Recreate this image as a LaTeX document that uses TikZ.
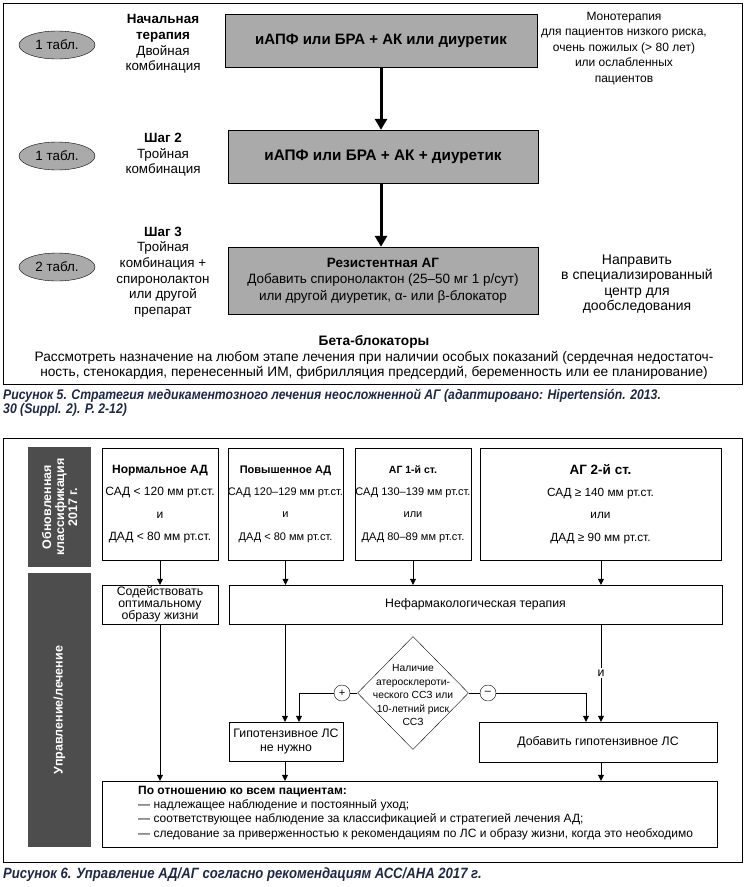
\documentclass[tikz,border=0pt]{standalone}
\usepackage{fontspec}
\setmainfont{Liberation Sans}
\newfontfamily\capfont[FakeStretch=0.88]{Liberation Sans}
\usetikzlibrary{shapes.geometric,arrows.meta}
\definecolor{boxgray}{RGB}{170,170,170}
\definecolor{bargray}{RGB}{77,77,77}
\definecolor{capblue}{RGB}{30,40,70}
\tikzset{
  ftext/.style={font=\fontsize{13.4}{15.6}\selectfont, align=center, inner sep=0pt},
  pill/.style={ellipse, draw, fill=boxgray, minimum width=76pt, minimum height=28pt, inner sep=0pt, font=\fontsize{13.4}{15}\selectfont},
  gbox/.style={draw, fill=boxgray, inner sep=0pt, align=center, font=\fontsize{13.5}{16.5}\selectfont},
  bigarrow/.style={line width=3pt, -{Triangle[width=12pt,length=11pt]}},
  wbox/.style={draw, inner sep=0pt, align=center, font=\fontsize{12.3}{12}\selectfont},
  clsbox/.style={draw, inner sep=0pt, align=center, font=\fontsize{12}{22.3}\selectfont},
  sarrow/.style={-{Triangle[width=6pt,length=6pt]}},
  darkbar/.style={fill=bargray, draw=none, inner sep=0pt},
  bartext/.style={text=white, rotate=90, align=center, font=\bfseries\fontsize{12.5}{13}\selectfont},
  capt/.style={anchor=west, inner sep=0pt, align=left, text=capblue, font=\capfont\bfseries\itshape\fontsize{13.9}{14}\selectfont},
  circ/.style={circle, draw, fill=white, minimum size=16pt, inner sep=0pt, font=\fontsize{11}{11}\selectfont}
}
\begin{document}
\begin{tikzpicture}[x=1pt,y=-1pt]
\useasboundingbox (0,0) rectangle (748,887);
% ---------- Figure 5 ----------
\draw (3,3) rectangle (742,384);
\node[pill] (e1) at (57,45) {1 табл.};
\node[pill] (e2) at (57,156) {1 табл.};
\node[pill] (e3) at (57,267) {2 табл.};
\node[ftext] (s1) at (163,44) {\textbf{Начальная}\\\textbf{терапия}\\Двойная\\комбинация};
\node[ftext] (s2) at (163,155) {\textbf{Шаг 2}\\Тройная\\комбинация};
\node[ftext] (s3) at (163,272) {\textbf{Шаг 3}\\Тройная\\комбинация +\\спиронолактон\\или другой\\препарат};
\node[gbox, minimum width=312pt, minimum height=53pt, font=\bfseries\fontsize{15}{16}\selectfont] (b1) at (381,40.5) {иАПФ или БРА + АК или диуретик};
\node[gbox, minimum width=310pt, minimum height=53pt, font=\bfseries\fontsize{15.3}{16}\selectfont] (b2) at (383,156.5) {иАПФ или БРА + АК + диуретик};
\node[gbox, minimum width=310pt, minimum height=67pt] (b3) at (383,280.5) {\textbf{Резистентная АГ}\\Добавить спиронолактон (25–50 мг 1 р/сут)\\или другой диуретик, α- или β-блокатор};
\draw[bigarrow] (b1.south) -- (b1.south |- b2.north);
\draw[bigarrow] (b1.south |- b2.south) -- (b1.south |- b3.north);
\node[ftext, font=\fontsize{12}{15.5}\selectfont] (mono) at (624,48.5) {Монотерапия\\для пациентов низкого риска,\\очень пожилых (> 80 лет)\\или ослабленных\\пациентов};
\node[ftext, font=\fontsize{14}{15.3}\selectfont] (napr) at (637,284) {Направить\\в специализированный\\центр для\\дообследования};
\node[ftext, font=\fontsize{13.7}{15.5}\selectfont] (beta) at (374,357.5) {\textbf{Бета-блокаторы}\\Рассмотреть назначение на любом этапе лечения при наличии особых показаний (сердечная недостаточ-\\ность, стенокардия, перенесенный ИМ, фибрилляция предсердий, беременность или ее планирование)};
\node[capt] (cap5) at (3,403) {Рисунок 5. Стратегия медикаментозного лечения неосложненной АГ (адаптировано: Hipertensión. 2013.\\30 (Suppl. 2). P. 2-12)};
% ---------- Figure 6 ----------
\draw (3,438) rectangle (742,862);
\node[darkbar, minimum width=63pt, minimum height=120pt] (bar1) at (59.5,507) {};
\node[bartext] (bt1) at (bar1) {Обновленная\\классификация\\2017 г.};
\node[darkbar, minimum width=63pt, minimum height=274pt] (bar2) at (59.5,710) {};
\node[bartext] (bt2) at (bar2) {Управление/лечение};
\node[clsbox, minimum width=116pt, minimum height=112pt] (ca) at (160,504) {\textbf{Нормальное АД}\\САД < 120 мм рт.ст.\\и\\ДАД < 80 мм рт.ст.};
\node[clsbox, minimum width=115pt, minimum height=112pt, font=\fontsize{11}{22.3}\selectfont] (cb) at (285.5,504) {\textbf{Повышенное АД}\\САД 120–129 мм рт.ст.\\и\\ДАД < 80 мм рт.ст.};
\node[clsbox, minimum width=116pt, minimum height=112pt, font=\fontsize{11}{22.3}\selectfont] (cc) at (413,504) {{\fontsize{10.5}{22.3}\selectfont\textbf{АГ 1-й ст.}}\\САД 130–139 мм рт.ст.\\или\\ДАД 80–89 мм рт.ст.};
\node[clsbox, minimum width=241pt, minimum height=112pt, font=\fontsize{11.8}{22.3}\selectfont] (cd) at (600.5,504) {{\fontsize{13.5}{22.3}\selectfont\textbf{АГ 2-й ст.}}\\САД ≥ 140 мм рт.ст.\\или\\ДАД ≥ 90 мм рт.ст.};
\node[wbox, minimum width=116pt, minimum height=39pt] (sod) at (160,604.5) {Содействовать\\оптимальному\\образу жизни};
\node[wbox, minimum width=493pt, minimum height=39pt] (nef) at (475.5,604.5) {Нефармакологическая терапия};
\node[diamond, draw, minimum width=111pt, minimum height=113pt, inner sep=0pt] (dia) at (413,693) {};
\node[wbox, draw=none, font=\fontsize{10.3}{13.5}\selectfont] (diat) at (413,695) {Наличие\\атеросклероти-\\ческого ССЗ или\\10-летний риск\\ССЗ};
\node[circ] (plus) at (342,693) {+};
\node[circ] (minus) at (488,693) {–};
\node[wbox, minimum width=114pt, minimum height=39pt, font=\fontsize{12.3}{14}\selectfont] (hyp) at (286,741.5) {Гипотензивное ЛС\\не нужно};
\node[wbox, minimum width=238pt, minimum height=40pt] (add) at (598,742) {Добавить гипотензивное ЛС};
\node[draw, minimum width=615pt, minimum height=66pt, inner sep=0pt] (all) at (409.5,814) {};
\node[anchor=north west, inner sep=0pt, align=left, font=\fontsize{12}{14.2}\selectfont] (allt) at (138,786) {\textbf{По отношению ко всем пациентам:}\\— надлежащее наблюдение и постоянный уход;\\— соответствующее наблюдение за классификацией и стратегией лечения АД;\\— следование за приверженностью к рекомендациям по ЛС и образу жизни, когда это необходимо};
% arrows
\draw[sarrow] (ca.south) -- (sod.north);
\draw[sarrow] (cb.south) -- (cb.south |- nef.north);
\draw[sarrow] (cc.south) -- (cc.south |- nef.north);
\coordinate (dtop) at (601,560);
\draw[sarrow] (dtop) -- (dtop |- nef.north);
\coordinate (nefA) at (285,624);
\coordinate (nefB) at (601,624);
\draw[sarrow] (nefA) -- (nefA |- hyp.north);
\draw[sarrow] (nefB) -- node[fill=white, inner sep=2pt, font=\fontsize{12.3}{13}\selectfont] (iand) {и} (nefB |- add.north);
\draw (dia.west) -- (plus.east);
\coordinate (pturn) at (299,693);
\draw[sarrow] (plus.west) -- (pturn) -- (pturn |- hyp.north);
\draw (dia.east) -- (minus.west);
\coordinate (mturn) at (586,693);
\draw[sarrow] (minus.east) -- (mturn) -- (mturn |- add.north);
\draw[sarrow] (sod.south) -- (sod.south |- all.north);
\draw[sarrow] (hyp.south -| nefA) -- (nefA |- all.north);
\draw[sarrow] (add.south -| nefB) -- (nefB |- all.north);
\node[capt, font=\capfont\bfseries\itshape\fontsize{14.9}{15}\selectfont] (cap6) at (3,875) {Рисунок 6. Управление АД/АГ согласно рекомендациям АСС/АНА 2017 г.};
\end{tikzpicture}
\end{document}
